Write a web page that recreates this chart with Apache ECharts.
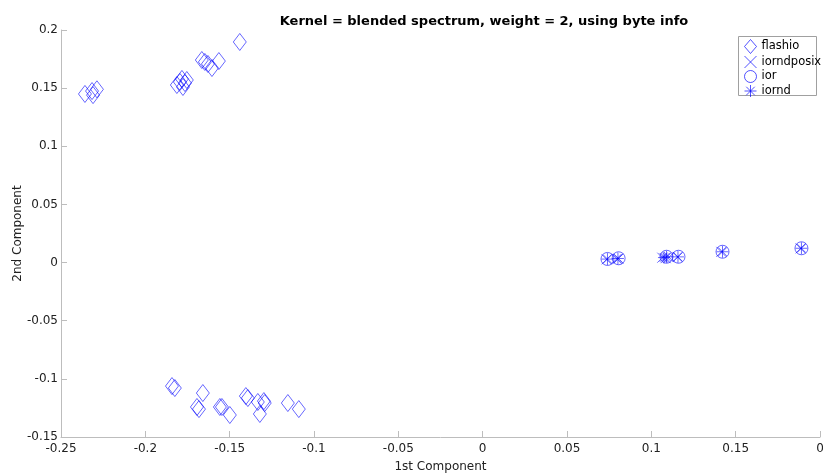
<!DOCTYPE html>
<html><head><meta charset="utf-8">
<script src="https://cdn.jsdelivr.net/npm/echarts@6/dist/echarts.min.js"></script>
<style>html,body{margin:0;padding:0;background:#fff}#c{width:823px;height:473px}</style>
</head><body><div id="c"></div>
<script>
var titleText = 'Kernel = blended spectrum, weight = 2, using byte info';
var xTickValues = [-0.25,-0.2,-0.15,-0.1,-0.05,0,0.05,0.1,0.15,0.2];
var xTickLabels = ['-0.25','-0.2','-0.15','-0.1','-0.05','0','0.05','0.1','0.15','0'];
var yTickValues = [-0.15,-0.1,-0.05,0,0.05,0.1,0.15,0.2];
var yTickLabels = ['-0.15','-0.1','-0.05','0','0.05','0.1','0.15','0.2'];

var flashio = [
 [-0.2358,0.145],[-0.2316,0.1475],[-0.231,0.144],[-0.2287,0.149],
 [-0.1813,0.1527],[-0.1795,0.1553],[-0.1783,0.1579],[-0.1777,0.151],[-0.1765,0.1544],[-0.1754,0.157],
 [-0.1665,0.1742],[-0.1647,0.1725],[-0.1629,0.1708],[-0.1605,0.1673],[-0.1564,0.1733],[-0.144,0.1897],
 [-0.1842,-0.1062],[-0.1825,-0.1079],[-0.1659,-0.1122],[-0.1694,-0.1242],[-0.1682,-0.126],
 [-0.1558,-0.1242],[-0.1546,-0.1242],[-0.1499,-0.1311],[-0.1404,-0.1148],[-0.1392,-0.1165],
 [-0.1333,-0.1199],[-0.1297,-0.1191],[-0.1292,-0.1208],[-0.1321,-0.1302],[-0.1155,-0.1208],[-0.109,-0.126]
];
var iorndposix = [[0.0735,0.0028],[0.0795,0.0032],[0.0805,0.0034],[0.1065,0.0042],[0.1085,0.0038],[0.1105,0.0046],[0.1155,0.0048],[0.1415,0.0092],[0.1885,0.0122]];
var ior = [[0.074,0.0031],[0.0806,0.0037],[0.109,0.005],[0.1161,0.005],[0.1422,0.0093],[0.189,0.0123]];
var iornd = [[0.074,0.003],[0.0802,0.0035],[0.1075,0.0043],[0.109,0.005],[0.1158,0.0049],[0.1422,0.0093],[0.189,0.0123]];

var blue = '#0000ff';
function fmt(list, labels){ return function(v){ for(var i=0;i<list.length;i++){ if(Math.abs(list[i]-v)<1e-9) return labels[i]; } return ''; }; }
function sty(){ return {color:'none', borderColor:blue, borderWidth:0.7, opacity:0.85}; }

var chart = echarts.init(document.getElementById('c'), null, {renderer:'canvas'});
chart.setOption({
  animation:false,
  backgroundColor:'#fff',
  title:{text:titleText, left:479, textAlign:'center', top:10, textStyle:{fontFamily:'DejaVu Sans', fontSize:13, fontWeight:'bold', color:'#000'}},
  grid:{left:61, right:3, top:30, bottom:36, containLabel:false, outerBoundsMode:'none'},
  graphic:[{type:'rect', z:3, shape:{x:738.5, y:36.5, width:78, height:59}, style:{fill:'#fff', stroke:'#a0a0a0', lineWidth:1}}],
  legend:{
    orient:'vertical', left:742, top:37, z:10, padding:0, itemGap:-2.5, itemWidth:12, itemHeight:14,
    itemStyle:{color:'none', borderColor:blue, borderWidth:0.8},
    textStyle:{fontFamily:'DejaVu Sans', fontSize:11.5, lineHeight:14, color:'#000', padding:[0,0,0,0]},
    data:['flashio','iorndposix','ior','iornd']
  },
  xAxis:{
    type:'value', min:-0.25, max:0.2, interval:0.05,
    name:'1st Component', nameLocation:'middle', nameGap:24, nameMoveOverlap:false,
    nameTextStyle:{fontFamily:'DejaVu Sans', fontSize:12, color:'#222'},
    axisLine:{onZero:false, lineStyle:{color:'#bdbdbd'}},
    axisTick:{inside:true, length:6, lineStyle:{color:'#bdbdbd'}},
    axisLabel:{formatter:fmt(xTickValues,xTickLabels), fontFamily:'DejaVu Sans', fontSize:12, color:'#222', margin:6, showMinLabel:true, showMaxLabel:true},
    splitLine:{show:false}
  },
  yAxis:{
    type:'value', min:-0.15, max:0.2, interval:0.05,
    name:'2nd Component', nameLocation:'middle', nameGap:37, nameRotate:90, nameMoveOverlap:false,
    nameTextStyle:{fontFamily:'DejaVu Sans', fontSize:12, color:'#222'},
    axisLine:{show:true, onZero:false, lineStyle:{color:'#bdbdbd'}},
    axisTick:{show:true, inside:true, length:6, lineStyle:{color:'#bdbdbd'}},
    axisLabel:{formatter:fmt(yTickValues,yTickLabels), fontFamily:'DejaVu Sans', fontSize:12, color:'#222', margin:3},
    splitLine:{show:false}
  },
  series:[
    {name:'flashio', type:'scatter', data:flashio, symbol:'diamond', symbolSize:[13,17], itemStyle:sty()},
    {name:'iorndposix', type:'scatter', data:iorndposix, symbol:'path://M0,0L10,10M10,0L0,10', symbolSize:10, itemStyle:sty()},
    {name:'ior', type:'scatter', data:ior, symbol:'circle', symbolSize:13, itemStyle:sty()},
    {name:'iornd', type:'scatter', data:iornd, symbol:'path://M5,0L5,10M0,5L10,5M1.46,1.46L8.54,8.54M8.54,1.46L1.46,8.54', symbolSize:12, itemStyle:sty()}
  ]
});
</script></body></html>
